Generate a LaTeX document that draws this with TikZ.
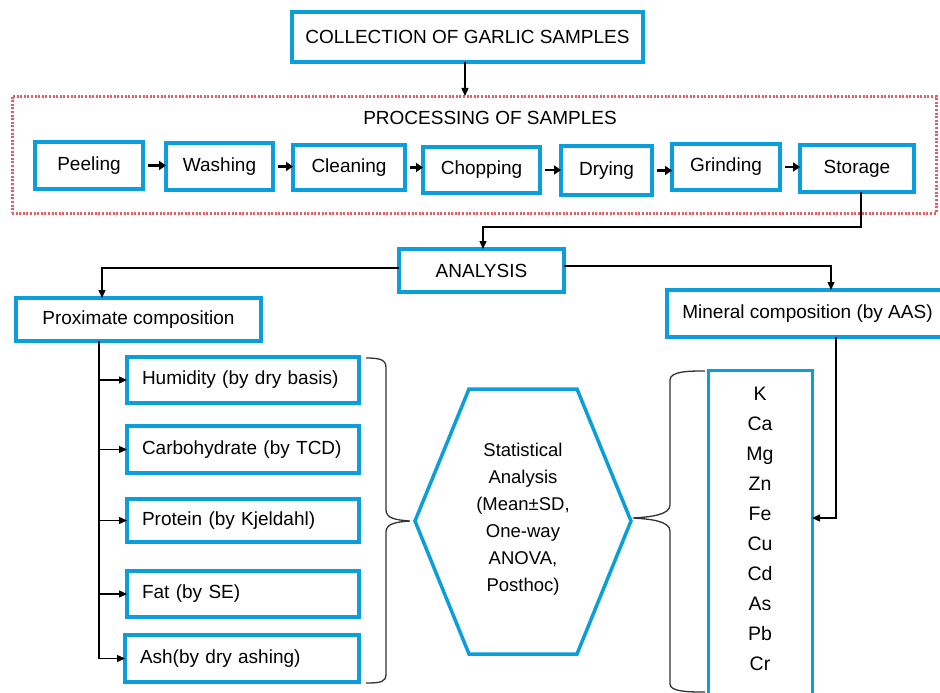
\documentclass[tikz,border=0pt]{standalone}
\usepackage{fontspec}
\setmainfont{Liberation Sans}
\usetikzlibrary{arrows.meta,calc}
\definecolor{boxblue}{RGB}{10,158,218}
\definecolor{dotred}{RGB}{226,96,100}
\newcommand{\fsz}{\fontsize{19}{22}\selectfont}
\tikzset{
  bluebox/.style={draw=boxblue, line width=3.5pt, fill=white, inner sep=0pt, outer sep=0pt, font=\fsz, align=center},
  leftbox/.style={bluebox, align=left, text width=#1, inner xsep=15pt},
  arr/.style={line width=1.3pt, -{Triangle[length=8pt,width=7pt]}},
  steparr/.style={line width=2.4pt, shorten <=5pt, -{Triangle[length=7pt,width=9pt]}},
  bracepath/.style={line width=1.3pt, draw=black!80},
}
\begin{document}
\begin{tikzpicture}[x=1pt,y=-1pt]
\useasboundingbox (0,0) rectangle (940,693);
\fill[white] (0,0) rectangle (940,693);

% top
\node[bluebox, minimum width=351pt, minimum height=50pt] (collect) at (467.5,37) {COLLECTION OF GARLIC SAMPLES};

% processing frame
\node[draw=dotred, line width=3pt, dash pattern=on 2pt off 1.6pt, minimum width=924pt, minimum height=117pt, inner sep=0pt, outer sep=0pt] (procbox) at (474,154.5) {};
\node[font=\fsz] (proclabel) at (490,118) {PROCESSING OF SAMPLES};

\node[bluebox, minimum width=108pt, minimum height=47pt] (peel)  at (89,165.5)  {Peeling};
\node[bluebox, minimum width=107pt, minimum height=47pt] (wash)  at (219.5,166.5) {Washing};
\node[bluebox, minimum width=112pt, minimum height=45pt] (clean) at (349,167.5) {Cleaning};
\node[bluebox, minimum width=117pt, minimum height=46pt] (chop)  at (481.5,170) {Chopping};
\node[bluebox, minimum width=91pt,  minimum height=49pt] (dry)   at (606.5,170.5) {Drying};
\node[bluebox, minimum width=108pt, minimum height=46pt] (grind) at (726,167) {Grinding};
\node[bluebox, minimum width=114pt, minimum height=47pt] (store) at (857,168.5) {Storage};

\foreach \a/\b in {peel/wash,wash/clean,clean/chop,chop/dry,dry/grind,grind/store}
  \draw[steparr] (\a.east) -- (\a.east -| \b.west);

\draw[arr] (collect.south -| 465,0) -- (procbox.north -| 465,0);

% analysis
\node[bluebox, minimum width=165pt, minimum height=43pt] (analysis) at (481.5,270.5) {ANALYSIS};
\draw[arr] (store.south -| 861,0) -- (861,227) -| (analysis.north -| 483,0);

\node[bluebox, minimum width=245pt, minimum height=43pt] (prox) at (138.5,319.5) {Proximate composition};
\node[bluebox, minimum width=281pt, minimum height=47pt] (mineral) at (807.5,313.5) {Mineral composition (by AAS)};

\draw[arr] (analysis.west |- 0,268) -| (prox.north -| 102,0);
\draw[arr] (analysis.east |- 0,266) -| (mineral.north -| 831,0);

% proximate items
\node[leftbox=202pt, minimum width=232pt, minimum height=46pt] (humid) at (243,380)   {\mbox{Humidity (by dry basis)}};
\node[leftbox=202pt, minimum width=232pt, minimum height=47pt] (carb)  at (243,449.5) {\mbox{Carbohydrate (by TCD)}};
\node[leftbox=202pt, minimum width=232pt, minimum height=43pt] (prot)  at (243,520.5) {\mbox{Protein (by Kjeldahl)}};
\node[leftbox=202pt, minimum width=232pt, minimum height=46pt] (fat)   at (243,594)   {\mbox{Fat (by SE)}};
\node[leftbox=204pt, minimum width=234pt, minimum height=47pt] (ash)   at (242,658.5) {\mbox{Ash(by dry ashing)}};

\draw[arr] (prox.south -| 99,0) |- (ash.west);
\foreach \n in {humid,carb,prot,fat}
  \draw[arr] (\n.west -| 99,0) -- (\n.west);

% hexagon
\coordinate (hexW) at (415,521);
\coordinate (hexE) at (631,521);
\draw[draw=boxblue, line width=3.5pt, fill=white, line join=miter] (hexW) -- (469,389) -- (577,389) -- (hexE) -- (577,654) -- (469,654) -- cycle;
\node[font=\fontsize{18.5}{27}\selectfont, align=center] (stat) at (523,519)
  {Statistical\\Analysis\\(Mean±SD,\\One-way\\ANOVA,\\Posthoc)};

% left brace
\draw[bracepath] (366,358) .. controls (381,358) and (386,360) .. (386,368)
  -- (386,510) .. controls (386,518) and (395,520) .. ($(hexW)+(-5,0)$)
  .. controls (395,522) and (386,524) .. (386,532)
  -- (386,674) .. controls (386,682) and (381,683) .. (366,683);

% mineral list
\node[draw=boxblue, line width=3pt, fill=white, minimum width=104pt, minimum height=360pt, inner sep=0pt, outer sep=0pt] (listbox) at (760,550) {};
\node[font=\fontsize{19.5}{30}\selectfont, align=center] (elems) at (760,529)
  {K\\Ca\\Mg\\Zn\\Fe\\Cu\\Cd\\As\\Pb\\Cr};
\draw[arr] (mineral.south -| 836,0) |- (listbox.east |- 0,518);

% right brace
\draw[bracepath] (705,371) .. controls (690,371) and (670,371) .. (670,380)
  -- (670,505) .. controls (670,515) and (650,517) .. ($(hexE)+(2,-3)$)
  .. controls (650,519) and (670,521) .. (670,531)
  -- (670,684) .. controls (670,692) and (690,692) .. (705,692);
\end{tikzpicture}
\end{document}
